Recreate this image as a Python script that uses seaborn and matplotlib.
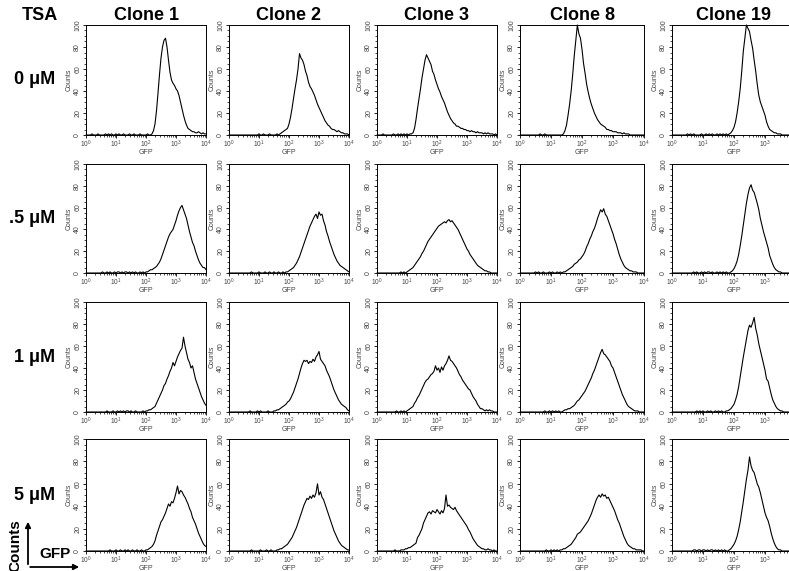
import numpy as np
import pandas as pd
import matplotlib
matplotlib.use("Agg")
import matplotlib.pyplot as plt
import seaborn as sns
from matplotlib.ticker import FixedLocator, MultipleLocator, LogLocator, NullFormatter
from matplotlib.patches import FancyArrowPatch

# ---------------- data ----------------
clones = ["Clone 1", "Clone 2", "Clone 3", "Clone 8", "Clone 19"]
doses = ["0 \u03bcM", ".5 \u03bcM", "1 \u03bcM", "5 \u03bcM"]
x_tick_labels = ["$10^0$", "$10^1$", "$10^2$", "$10^3$", "$10^4$"]
y_tick_values = [0, 20, 40, 60, 80, 100]
# GFP channel positions: 81 log-spaced channels from 10^0 to 10^4
gfp_channels = 10 ** np.linspace(0, 4, 81)

# ---- TSA 0 uM ----
c1_0 = [0,0,0,0,1,0,0,0,1,0, 0,0,0,1,0,1,0,1,0,0, 1,0,1,0,0,1,0,0,0,1, 0,0,1,0,0,0,1,0,0,0,
        0,1,0,0,1,4,10,22,38,55, 70,80,86,88,80,68,57,50,47,45, 42,40,36,30,24,18,13,9,6,5,
        4,3,3,2,2,3,2,1,2,1, 1]
c2_0 = [0,0,0,0,0,0,0,0,0,0, 0,0,0,0,0,0,0,0,0,0, 1,0,0,1,0,0,0,1,0,0, 0,0,1,0,1,2,3,4,5,6,
        10,16,24,33,42,50,60,74,70,68, 64,58,54,48,44,42,39,36,32,28, 25,22,19,16,13,11,9,8,6,5,
        5,4,3,4,3,2,2,1,1,1, 0]
c3_0 = [0,0,0,0,1,0,0,0,0,0, 0,1,0,0,1,0,1,0,1,0, 1,0,1,1,2,6,14,24,33,42, 52,60,68,73,70,67,64,58,55,50,
        46,42,39,35,32,29,25,21,18,15, 13,11,10,8,8,7,6,6,5,5, 4,4,3,4,3,3,2,3,2,2,
        2,1,2,1,2,1,1,1,0,1, 0]
c8_0 = [0,0,0,0,0,0,0,0,0,0, 0,0,0,1,0,0,1,0,0,0, 0,0,0,0,0,0,0,0,1,4, 9,18,28,40,55,72,86,100,92,88,
        78,65,56,46,39,33,28,24,20,17, 14,12,10,9,8,7,5,5,4,4, 3,3,3,2,2,2,1,2,1,1,
        1,0,0,0,0,0,0,0,0,0, 0]
c19_0 = [0,0,0,0,0,0,0,0,0,0, 1,0,1,0,1,0,0,0,0,1, 0,0,1,0,1,0,1,0,0,1, 0,1,0,1,0,1,0,1,2,4,
         7,12,20,30,42,58,76,88,100,97, 94,86,79,68,58,46,36,30,26,22, 18,12,8,5,4,3,2,2,1,1,
         1,0,0,0,0,0,0,0,0,0, 0]
# ---- TSA .5 uM ----
c1_05 = [0,0,0,0,0,0,0,0,0,0, 0,1,0,0,1,0,1,0,0,1, 0,1,1,0,1,0,1,1,0,1, 0,1,0,1,0,0,1,0,1,0,
         1,1,2,3,3,4,5,6,8,10, 13,17,21,25,29,33,36,38,40,44, 48,53,57,60,62,58,54,50,44,38,
         33,28,25,20,16,12,9,7,5,5, 3]
c2_05 = [0,0,0,0,0,0,0,0,0,0, 0,0,0,0,0,1,0,0,0,0, 1,0,0,0,1,0,0,1,0,0, 1,0,0,1,0,0,1,0,1,1,
         2,3,4,5,7,9,12,15,19,23, 27,31,35,39,43,46,49,52,54,50, 56,53,54,48,44,38,34,29,25,21,
         17,14,11,9,7,6,5,4,3,2, 1]
c3_05 = [0,0,0,0,0,0,0,0,0,0, 0,0,0,0,0,0,1,0,1,0, 1,2,3,4,5,7,9,11,13,15, 18,20,23,26,29,31,33,35,37,39,
         41,43,44,45,46,47,46,48,49,47, 48,46,44,42,40,37,34,31,28,25, 22,20,17,15,13,11,9,7,6,5,
         4,3,2,2,1,1,0,0,0,0, 0]
c8_05 = [0,0,0,0,0,0,0,0,0,0, 1,0,1,0,0,1,0,0,0,1, 0,1,0,0,1,0,1,0,1,1, 2,3,4,5,6,8,9,10,12,13,
         15,17,20,24,27,31,34,38,41,45, 50,54,58,56,59,54,52,48,44,40, 36,31,27,22,17,13,10,7,5,4,
         3,2,2,1,1,1,0,0,0,0, 0]
c19_05 = [0,0,0,0,0,0,0,0,0,0, 0,0,0,0,1,0,1,0,0,1, 0,1,0,1,1,0,1,0,0,1, 0,1,0,1,0,1,0,0,1,2,
          4,7,11,17,25,34,44,54,64,72, 78,81,76,74,69,64,58,50,44,38, 33,28,23,16,12,8,5,3,2,1,
          1,0,0,0,0,0,0,0,0,0, 0]
# ---- TSA 1 uM ----
c1_1 = [0,0,0,0,0,0,0,0,0,0, 0,0,0,0,1,0,0,0,1,0, 0,1,0,1,0,1,0,1,1,0, 1,0,0,1,0,0,0,0,1,0,
        1,1,2,2,3,4,5,8,11,14, 17,20,24,26,30,33,37,40,45,42, 46,50,53,56,58,68,60,54,48,45,
        40,42,36,30,26,22,18,14,11,8, 6]
c2_1 = [0,0,0,0,0,0,0,0,0,0, 0,0,0,0,1,0,0,0,0,1, 0,1,0,0,0,0,1,0,0,0, 1,1,2,2,3,4,5,6,7,9,
        10,12,15,18,22,26,30,35,40,44, 47,46,47,44,46,45,48,46,50,52, 55,48,46,44,42,38,35,32,28,24,
        20,17,14,11,9,7,6,5,4,2, 1]
c3_1 = [0,0,0,0,0,0,0,0,0,0, 0,0,0,1,0,0,1,0,1,0, 1,2,3,4,5,8,10,13,15,18, 21,24,27,29,30,32,34,35,37,42,
        38,40,36,41,38,42,44,47,51,47, 46,44,42,40,37,34,32,29,27,25, 23,21,20,17,14,12,10,7,5,3,
        3,2,1,2,1,2,1,1,0,0, 0]
c8_1 = [0,0,0,0,0,0,0,0,0,0, 0,0,0,0,0,0,1,0,0,1, 0,1,0,1,0,1,0,0,1,2, 2,3,3,4,5,6,8,10,11,13,
        15,17,19,22,25,28,31,35,38,42, 46,50,54,57,53,52,50,48,46,42, 40,36,32,28,24,20,16,13,10,7,
        5,4,3,2,1,1,1,0,0,0, 0]
c19_1 = [0,0,0,0,0,0,0,0,0,0, 0,0,0,0,0,0,1,0,1,0, 1,0,0,1,0,1,0,0,1,0, 1,0,1,0,0,1,1,2,3,5,
         7,11,16,23,32,41,50,58,66,74, 79,77,81,86,76,70,62,56,50,44, 38,30,28,22,16,11,8,5,3,2,
         1,1,0,0,0,0,0,0,0,0, 0]
# ---- TSA 5 uM ----
c1_5 = [0,0,0,0,0,0,0,0,0,0, 0,0,0,0,0,0,1,0,0,0, 1,0,0,1,0,0,1,0,1,0, 0,1,0,0,1,0,0,1,0,0,
        1,1,2,3,4,6,9,14,18,22, 26,28,31,34,38,42,40,44,43,47, 52,58,51,54,53,50,48,45,42,38,
        35,30,27,24,20,16,13,10,7,5, 4]
c2_5 = [0,0,0,0,0,0,0,0,0,0, 0,0,0,0,0,1,0,0,0,0, 0,1,0,0,0,1,0,0,1,0, 0,0,1,1,2,2,3,4,5,6,
        8,10,12,15,18,21,25,29,33,37, 41,44,47,46,49,47,50,48,52,60, 50,53,48,46,42,38,34,30,26,22,
        18,15,12,9,7,5,4,3,2,1, 1]
c3_5 = [0,0,0,0,0,0,0,0,0,0, 0,0,1,0,0,0,1,1,1,2, 2,3,3,4,5,6,7,12,14,17, 20,25,28,31,34,35,33,36,35,34,
        37,35,33,36,34,38,50,40,41,39, 38,37,39,36,34,32,30,28,26,24, 22,19,17,14,11,9,7,5,4,3,
        2,2,1,1,2,1,1,0,1,0, 0]
c8_5 = [0,0,0,0,0,0,0,0,0,0, 0,0,0,0,0,0,0,1,0,0, 1,0,1,0,1,0,1,1,2,2, 3,4,5,6,8,10,12,15,16,17,
        19,21,23,25,27,30,33,37,41,45, 48,50,48,51,49,50,47,48,45,42, 39,36,32,28,25,21,17,13,10,7,
        5,4,3,2,2,1,1,1,1,0, 0]
c19_5 = [0,0,0,0,0,0,0,0,0,0, 0,0,0,0,1,1,0,1,1,0, 1,1,0,1,0,1,1,0,1,0, 1,0,1,0,1,0,0,1,2,4,
         6,9,13,19,26,35,44,54,64,72, 84,76,72,70,65,60,57,52,46,40, 34,30,27,22,16,11,7,4,2,1,
         1,0,0,0,0,0,0,0,0,0, 0]

panels = [
    [c1_0, c2_0, c3_0, c8_0, c19_0],
    [c1_05, c2_05, c3_05, c8_05, c19_05],
    [c1_1, c2_1, c3_1, c8_1, c19_1],
    [c1_5, c2_5, c3_5, c8_5, c19_5],
]

# ---------------- layout (pixels) ----------------
W, H = 789, 571
col_left = [86, 229, 377, 520, 672]
col_width = [120, 120, 120, 124, 124]
row_top = [25, 164, 302, 439]
row_bottom = [135, 273, 412, 551]

sns.set_theme(style="ticks")
plt.rcParams['font.family'] = ['Liberation Sans', 'DejaVu Sans']
plt.rcParams['mathtext.fontset'] = 'custom'
plt.rcParams['mathtext.rm'] = 'Liberation Sans'
plt.rcParams['mathtext.it'] = 'Liberation Sans'

fig = plt.figure(figsize=(W / 100, H / 100), dpi=100)
fig.patch.set_facecolor("white")

tick_col = "#444444"
for r in range(4):
    for c in range(5):
        l = col_left[c] / W
        w = col_width[c] / W
        b = 1 - row_bottom[r] / H
        h = (row_bottom[r] - row_top[r]) / H
        ax = fig.add_axes([l, b, w, h])
        df = pd.DataFrame({"GFP": gfp_channels, "Counts": panels[r][c]})
        sns.lineplot(data=df, x="GFP", y="Counts", ax=ax, color="black",
                     linewidth=0.8, estimator=None, clip_on=False)
        ax.set_xscale("log")
        ax.set_xlim(1, 1e4)
        ax.set_ylim(0, 100)
        ax.set_facecolor("white")
        ax.xaxis.set_major_locator(FixedLocator([1, 10, 100, 1000, 10000]))
        ax.set_xticklabels(x_tick_labels)
        ax.xaxis.set_minor_locator(LogLocator(base=10, subs=np.arange(2, 10)))
        ax.xaxis.set_minor_formatter(NullFormatter())
        ax.yaxis.set_major_locator(FixedLocator(y_tick_values))
        ax.set_yticklabels([str(v) for v in y_tick_values])
        ax.yaxis.set_minor_locator(MultipleLocator(5))
        ax.tick_params(axis="both", which="major", labelsize=5, length=2.5,
                       width=0.6, pad=1, colors="black", labelcolor=tick_col)
        ax.tick_params(axis="x", which="major", pad=0.3, labelsize=4.8)
        ax.tick_params(axis="both", which="minor", length=1.3, width=0.5, colors="black")
        for lab in ax.get_yticklabels():
            lab.set_rotation(90)
            lab.set_va("center")
        for s in ax.spines.values():
            s.set_linewidth(0.7)
            s.set_color("black")
            s.set_visible(True)
        ax.set_xlabel("GFP", fontsize=5, labelpad=-0.6, color=tick_col)
        ax.set_ylabel("Counts", fontsize=5, labelpad=1, color=tick_col)

# titles
for c in range(5):
    cx = (col_left[c] + col_width[c] / 2) / W
    fig.text(cx, 1 - 16 / H, clones[c], ha="center", va="center",
             fontsize=13, fontweight="bold", color="black")
fig.text(40 / W, 1 - 16 / H, "TSA", ha="center", va="center",
         fontsize=13, fontweight="bold", color="black")
for r in range(4):
    cy = 1 - ((row_top[r] + row_bottom[r]) / 2) / H
    fig.text(55 / W, cy, doses[r], ha="right", va="center",
             fontsize=13, fontweight="bold", color="black")

# axis legend arrows bottom-left
arr_kw = dict(arrowstyle="-|>", mutation_scale=8, lw=1.3, color="black",
              transform=fig.transFigure)
fig.add_artist(FancyArrowPatch((28 / W, 1 - 567 / H), (28 / W, 1 - 519 / H), **arr_kw))
fig.add_artist(FancyArrowPatch((27.4 / W, 1 - 567 / H), (82 / W, 1 - 567 / H), **arr_kw))
fig.text(15 / W, 1 - 546 / H, "Counts", rotation=90, ha="center", va="center",
         fontsize=11, fontweight="bold", color="black")
fig.text(55 / W, 1 - 554 / H, "GFP", ha="center", va="center",
         fontsize=11, fontweight="bold", color="black")

fig.savefig("out.png", dpi=100, facecolor="white")
